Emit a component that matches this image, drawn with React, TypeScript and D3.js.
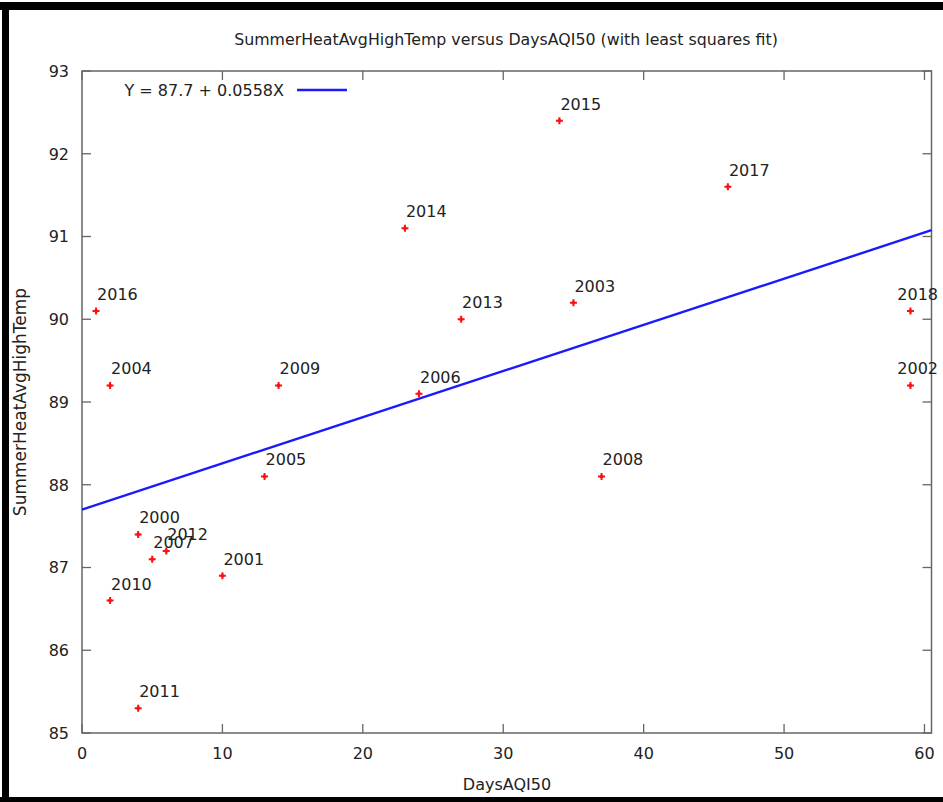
import React from 'react'
import { scaleLinear, range } from 'd3'

// data
const years = [2016, 2004, 2010, 2000, 2011, 2007, 2012, 2001, 2005, 2009, 2014, 2006, 2013, 2015, 2003, 2008, 2017, 2018, 2002]
const daysAQI50 = [1, 2, 2, 4, 4, 5, 6, 10, 13, 14, 23, 24, 27, 34, 35, 37, 46, 59, 59]
const avgHighTemp = [90.1, 89.2, 86.6, 87.4, 85.3, 87.1, 87.2, 86.9, 88.1, 89.2, 91.1, 89.1, 90.0, 92.4, 90.2, 88.1, 91.6, 90.1, 89.2]
const fitIntercept = 87.7
const fitSlope = 0.0558
const xTicks = range(0, 61, 10)
const yTicks = range(85, 94, 1)

export default function App() {
  const width = 943
  const height = 802
  const left = 82
  const right = 931.5
  const top = 71
  const bottom = 733
  const font = 'DejaVu Sans, Verdana, sans-serif'
  const ink = '#222'
  const frame = '#666'

  const x = scaleLinear().domain([0, 60.5]).range([left, right])
  const y = scaleLinear().domain([85, 93]).range([bottom, top])
  const tick = 9

  return (
    <svg width={width} height={height} style={{ position: 'absolute', left: 0, top: 0, background: '#fff' }}>
      {/* screenshot frame */}
      <rect x={0} y={2} width={width} height={8} fill="#000" />
      <rect x={2} y={2} width={7} height={height} fill="#000" />
      <rect x={0} y={797} width={width} height={5} fill="#000" />

      <text x={506} y={45} textAnchor="middle" fontFamily={font} fontSize={15.8} fill={ink}>
        SummerHeatAvgHighTemp versus DaysAQI50 (with least squares fit)
      </text>

      {/* ticks */}
      {xTicks.map(t => (
        <g key={'x' + t}>
          <line x1={x(t)} x2={x(t)} y1={bottom} y2={bottom - tick} stroke={frame} strokeWidth={1.3} />
          <line x1={x(t)} x2={x(t)} y1={top} y2={top + tick} stroke={frame} strokeWidth={1.3} />
          <text x={x(t)} y={759} textAnchor="middle" fontFamily={font} fontSize={16} fill={ink}>{t}</text>
        </g>
      ))}
      {yTicks.map(t => (
        <g key={'y' + t}>
          <line x1={left} x2={left + tick} y1={y(t)} y2={y(t)} stroke={frame} strokeWidth={1.3} />
          <line x1={right} x2={right - tick} y1={y(t)} y2={y(t)} stroke={frame} strokeWidth={1.3} />
          <text x={69} y={y(t)} dy="0.36em" textAnchor="end" fontFamily={font} fontSize={16} fill={ink}>{t}</text>
        </g>
      ))}
      <rect x={left} y={top} width={right - left} height={bottom - top} fill="none" stroke={frame} strokeWidth={1.5} />

      <text x={507} y={790} textAnchor="middle" fontFamily={font} fontSize={16} fill={ink}>DaysAQI50</text>
      <text transform={`translate(26, ${(top + bottom) / 2}) rotate(-90)`} textAnchor="middle" fontFamily={font} fontSize={17} fill={ink}>
        SummerHeatAvgHighTemp
      </text>

      {/* fit line */}
      <line
        x1={x(0)} y1={y(fitIntercept)}
        x2={x(60.5)} y2={y(fitIntercept + fitSlope * 60.5)}
        stroke="#1a1aff" strokeWidth={2.4}
      />

      {/* legend */}
      <text x={284} y={96} textAnchor="end" fontFamily={font} fontSize={16} fill={ink}>
        {`Y = ${fitIntercept} + ${fitSlope}X`}
      </text>
      <line x1={297} x2={347} y1={90} y2={90} stroke="#1a1aff" strokeWidth={2.4} />

      {/* points and year labels */}
      {years.map((yr, i) => {
        const px = x(daysAQI50[i])
        const py = y(avgHighTemp[i])
        const overflow = px + 1 + 41 > 938
        return (
          <g key={yr}>
            <path d={`M${px - 3.5},${py}H${px + 3.5}M${px},${py - 3.5}V${py + 3.5}`} stroke="#ff1010" strokeWidth={2} />
            <rect x={px - 1.5} y={py - 1.5} width={3} height={3} fill="#ff1010" />
            <text
              x={overflow ? 938 : px + 1}
              y={py - 11}
              textAnchor={overflow ? 'end' : 'start'}
              fontFamily={font}
              fontSize={16}
              fill={ink}
            >
              {yr}
            </text>
          </g>
        )
      })}
    </svg>
  )
}
